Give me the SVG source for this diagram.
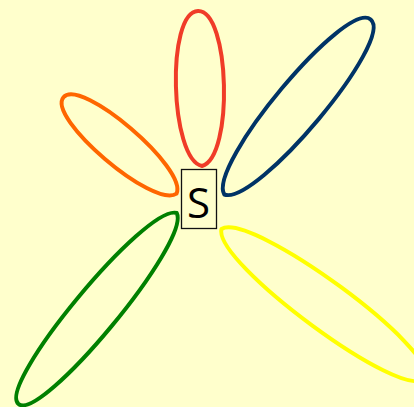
<svg xmlns="http://www.w3.org/2000/svg" width="414" height="407" viewBox="0 0 414 407">
  <style>
    .loop { fill: none; stroke-width: 4; stroke-linejoin: round; stroke-linecap: round; }
    .node rect { fill: #ffffcc; stroke: #111111; stroke-width: 1.3; }
    .node text { font-family: "Open Sans", "DejaVu Sans", sans-serif; font-size: 42px; fill: #000000; text-anchor: middle; }
  </style>
  <rect x="0" y="0" width="414" height="407" fill="#ffffcc"/>
  <g id="connectors">
    <path id="loop-red" class="loop" stroke="#f03c28" d="M202,166 C233.8,157.4 230,10.2 198,11 C166,11.8 169.8,159.1 202,166 Z"/>
    <path id="loop-orange" class="loop" stroke="#ff6600" d="M176.5,193.7 C188.2,168.6 80.8,77 63.5,97.3 C46.2,117.6 153.5,209.2 176.5,193.7 Z"/>
    <path id="loop-navy" class="loop" stroke="#003366" d="M224.3,194.5 C256.2,206.3 395.2,40 370.7,19.5 C346.2,-1 207.1,165.2 224.3,194.5 Z"/>
    <path id="loop-green" class="loop" stroke="#008000" d="M176.7,213 C146.2,203.8 -4.09,385.3 18.5,404 C41.09,422.7 191.4,241.3 176.7,213 Z"/>
    <path id="loop-yellow" class="loop" stroke="#ffff00" d="M221.5,229 C212.7,262.2 405,403.8 424,378 C443,352.2 250.6,210.7 221.5,229 Z"/>
  </g>
  <g id="node-S" class="node">
    <rect x="181.5" y="169.5" width="35" height="59"/>
    <text x="198.5" y="217.5">S</text>
  </g>
</svg>
